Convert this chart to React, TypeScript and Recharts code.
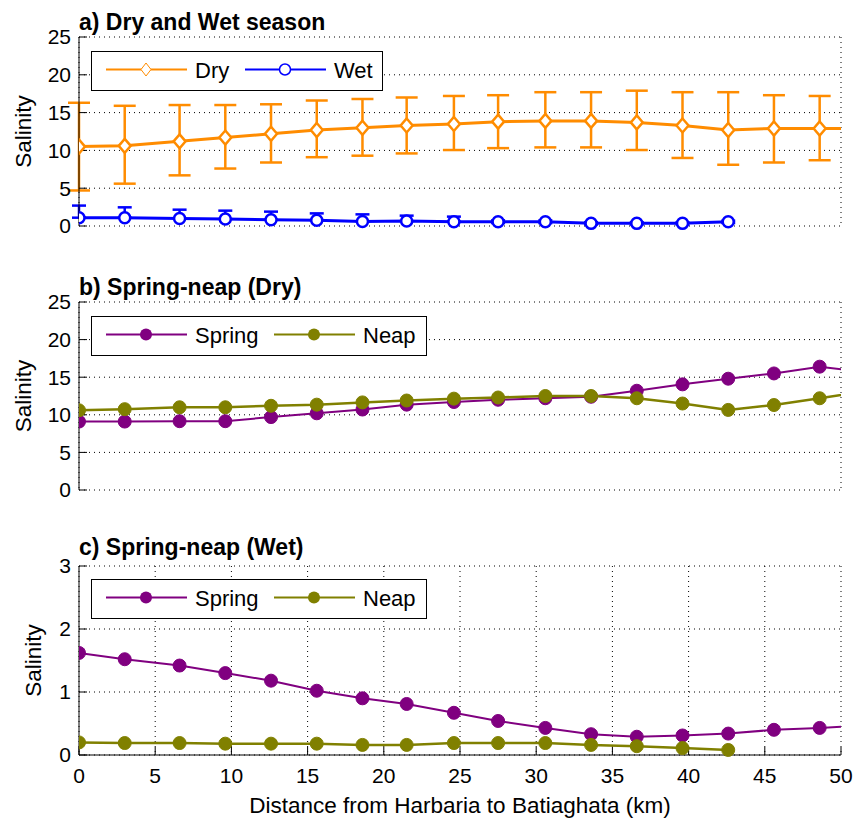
import { CartesianGrid, ErrorBar, Label, Legend, Line, LineChart, XAxis, YAxis } from 'recharts'

const FONT = '"Liberation Sans", Arial, Helvetica, sans-serif'
const ORANGE = '#ff8c00'
const BLUE = '#0000ff'
const PURPLE = '#800080'
const OLIVE = '#808000'

// station distance (km); the last one sits just past the 50 km axis limit
const DIST = [0, 3, 6.6, 9.6, 12.6, 15.6, 18.6, 21.5, 24.6, 27.5, 30.6, 33.6, 36.6, 39.6, 42.6, 45.6, 48.6, 51.6]
const X_TICKS = [0, 5, 10, 15, 20, 25, 30, 35, 40, 45, 50]

// a) seasonal mean salinity with spread
const DRY = [10.5, 10.6, 11.2, 11.7, 12.2, 12.7, 13.0, 13.3, 13.5, 13.8, 13.9, 13.9, 13.7, 13.3, 12.7, 12.9, 12.9, 12.9]
const DRY_LOW = [4.7, 5.6, 6.7, 7.6, 8.4, 9.1, 9.3, 9.6, 10.05, 10.3, 10.4, 10.4, 10.05, 9.0, 8.1, 8.4, 8.7]
const DRY_HIGH = [16.3, 15.9, 16.0, 16.0, 16.1, 16.6, 16.8, 17.0, 17.2, 17.3, 17.7, 17.7, 17.9, 17.7, 17.7, 17.3, 17.2]
const WET = [1.1, 1.1, 1.0, 0.93, 0.84, 0.75, 0.6, 0.66, 0.57, 0.57, 0.57, 0.35, 0.35, 0.35, 0.55]
const WET_ERR = [1.6, 1.37, 1.16, 1.1, 1.06, 0.92, 0.94, 0.71, 0.67, 0.18, 0.18, 0.15, 0.15, 0.15, 0.15]

// b) spring / neap, dry season
const SPRING_DRY = [9.1, 9.1, 9.15, 9.15, 9.7, 10.2, 10.7, 11.35, 11.7, 12.0, 12.2, 12.4, 13.2, 14.05, 14.8, 15.5, 16.4, 15.65]
const NEAP_DRY = [10.6, 10.75, 11.0, 11.0, 11.2, 11.35, 11.65, 11.9, 12.15, 12.3, 12.5, 12.5, 12.2, 11.5, 10.65, 11.3, 12.2, 13.1]

// c) spring / neap, wet season
const SPRING_WET = [1.62, 1.52, 1.42, 1.3, 1.18, 1.02, 0.9, 0.81, 0.67, 0.54, 0.43, 0.33, 0.29, 0.31, 0.34, 0.4, 0.43, 0.47]
const NEAP_WET = [0.2, 0.19, 0.19, 0.18, 0.18, 0.18, 0.16, 0.16, 0.19, 0.19, 0.19, 0.16, 0.14, 0.11, 0.08]

const pts = (vals: number[]) => vals.map((y, i) => ({ x: DIST[i], y }))
const dryBars = DRY_LOW.map((lo, i) => ({ x: DIST[i], y: DRY[i], err: [DRY[i] - lo, DRY_HIGH[i] - DRY[i]] }))
// the part of a wet bar below zero falls outside the axes, so only the upper half is drawn there
const wetData = WET.map((y, i) => ({ x: DIST[i], y, err: [WET_ERR[i] > y ? 0 : WET_ERR[i], WET_ERR[i]] }))

const tickStyle = { fontSize: 21, fill: '#000', fontFamily: FONT }

const diamondDot = (p: any) => {
  if (p.payload.x > 50) return <g key={p.index} />
  const { cx, cy } = p
  return (
    <polygon
      key={p.index}
      points={`${cx},${cy - 7} ${cx + 6},${cy} ${cx},${cy + 7} ${cx - 6},${cy}`}
      fill="#fff"
      stroke={ORANGE}
      strokeWidth={2.5}
    />
  )
}

const salinityLabel = (x: number) => (props: any) => {
  const vb = props.viewBox
  const cy = vb.y + vb.height / 2
  return (
    <text
      x={x}
      y={cy}
      transform={`rotate(-90 ${x} ${cy})`}
      textAnchor="middle"
      dominantBaseline="central"
      fontSize={22.5}
      fontFamily={FONT}
      fill="#000"
    >
      Salinity
    </text>
  )
}

type Item = { label: string; color: string; kind: 'diamond' | 'open' | 'filled'; x0: number }

function LegendBox({ items, width }: { items: Item[]; width: number }) {
  return (
    <div style={{ width, height: 40, border: '1px solid #000', background: '#fff', boxSizing: 'border-box' }}>
      <svg width={width - 2} height={38} style={{ display: 'block' }}>
        {items.map((it) => {
          const mx = it.x0 + 40
          return (
            <g key={it.label}>
              <line x1={it.x0} x2={it.x0 + 81} y1={17.5} y2={17.5} stroke={it.color} strokeWidth={2} />
              {it.kind === 'diamond' && (
                <polygon
                  points={`${mx},${11} ${mx + 5},${17.5} ${mx},${24} ${mx - 5},${17.5}`}
                  fill="#fff"
                  stroke={it.color}
                  strokeWidth={1}
                />
              )}
              {it.kind === 'open' && <circle cx={mx} cy={17.5} r={5.5} fill="#fff" stroke={it.color} strokeWidth={1.5} />}
              {it.kind === 'filled' && <circle cx={mx} cy={17.5} r={6} fill={it.color} />}
              <text x={it.x0 + 89} y={26} fontSize={22} fontFamily={FONT} fill="#000">
                {it.label}
              </text>
            </g>
          )
        })}
      </svg>
    </div>
  )
}

const frame = (yMax: number, yTicks: number[], showX: boolean, labelX: number) => [
  <CartesianGrid key="g" xAxisId="b" yAxisId="l" stroke="#000" strokeDasharray="1 4" />,
  <XAxis
    key="xb"
    xAxisId="b"
    dataKey="x"
    type="number"
    domain={[0, 50]}
    ticks={X_TICKS}
    interval={0}
    allowDataOverflow
    height={showX ? 63 : 0}
    tick={showX ? tickStyle : false}
    tickSize={-8}
    tickMargin={21}
    axisLine={{ stroke: '#000' }}
    tickLine={{ stroke: '#000' }}
  >
    {showX && (
      <Label
        value="Distance from Harbaria to Batiaghata (km)"
        position="insideBottom"
        offset={5}
        style={{ fontSize: 22.5, fill: '#000', fontFamily: FONT }}
      />
    )}
  </XAxis>,
  <XAxis
    key="xt"
    xAxisId="t"
    orientation="top"
    type="number"
    domain={[0, 50]}
    ticks={X_TICKS}
    interval={0}
    height={0}
    tick={false}
    tickSize={-8}
    axisLine={{ stroke: '#000' }}
    tickLine={{ stroke: '#000' }}
  />,
  <YAxis
    key="yl"
    yAxisId="l"
    type="number"
    domain={[0, yMax]}
    ticks={yTicks}
    interval={0}
    width={79}
    tick={tickStyle}
    tickSize={-8}
    tickMargin={16}
    axisLine={{ stroke: '#000' }}
    tickLine={{ stroke: '#000' }}
  >
    <Label content={salinityLabel(labelX)} />
  </YAxis>,
  <YAxis
    key="yr"
    yAxisId="r"
    orientation="right"
    type="number"
    domain={[0, yMax]}
    ticks={yTicks}
    interval={0}
    width={0}
    tick={false}
    tickSize={-8}
    axisLine={{ stroke: '#000' }}
    tickLine={{ stroke: '#000' }}
  />,
]

const titleStyle = (top: number) => ({
  position: 'absolute' as const,
  left: 79,
  top,
  fontSize: 23,
  lineHeight: '22px',
  fontWeight: 700,
  fontFamily: FONT,
  color: '#000',
  whiteSpace: 'nowrap' as const,
})

const S_TICKS = [0, 5, 10, 15, 20, 25]

export default function App() {
  return (
    <div style={{ position: 'absolute', left: 0, top: 0, width: 856, height: 818, background: '#fff', fontFamily: FONT }}>
      <div style={{ position: 'absolute', left: 0, top: 0 }}>
        <LineChart width={856} height={250} margin={{ top: 37, right: 15, bottom: 24, left: 0 }}>
          {frame(25, S_TICKS, false, 23)}
          <Line
            data={dryBars}
            xAxisId="b"
            yAxisId="l"
            dataKey="y"
            stroke="none"
            dot={false}
            isAnimationActive={false}
          >
            <ErrorBar dataKey="err" direction="y" width={11} stroke={ORANGE} strokeWidth={2.5} />
          </Line>
          <Line
            data={pts(DRY)}
            xAxisId="b"
            yAxisId="l"
            dataKey="y"
            stroke={ORANGE}
            strokeWidth={3}
            dot={diamondDot}
            isAnimationActive={false}
          />
          <Line
            data={wetData}
            xAxisId="b"
            yAxisId="l"
            dataKey="y"
            stroke={BLUE}
            strokeWidth={3}
            dot={{ r: 5.5, fill: '#fff', stroke: BLUE, strokeWidth: 2.5 }}
            isAnimationActive={false}
          >
            <ErrorBar dataKey="err" direction="y" width={7} stroke={BLUE} strokeWidth={2.5} />
          </Line>
          <Legend
            layout="horizontal"
            verticalAlign="middle"
            align="center"
            wrapperStyle={{ left: 91, top: 51, width: 292 }}
            content={() => (
              <LegendBox
                width={292}
                items={[
                  { label: 'Dry', color: ORANGE, kind: 'diamond', x0: 14 },
                  { label: 'Wet', color: BLUE, kind: 'open', x0: 153 },
                ]}
              />
            )}
          />
        </LineChart>
      </div>
      <div style={titleStyle(11)}>a) Dry and Wet season</div>

      <div style={{ position: 'absolute', left: 0, top: 250 }}>
        <LineChart width={856} height={250} margin={{ top: 52, right: 15, bottom: 10, left: 0 }}>
          {frame(25, S_TICKS, false, 23)}
          <Line
            data={pts(SPRING_DRY)}
            xAxisId="b"
            yAxisId="l"
            dataKey="y"
            stroke={PURPLE}
            strokeWidth={2}
            dot={{ r: 6.5, fill: PURPLE, stroke: PURPLE, strokeWidth: 1 }}
            isAnimationActive={false}
          />
          <Line
            data={pts(NEAP_DRY)}
            xAxisId="b"
            yAxisId="l"
            dataKey="y"
            stroke={OLIVE}
            strokeWidth={2.5}
            dot={{ r: 6.5, fill: OLIVE, stroke: OLIVE, strokeWidth: 1 }}
            isAnimationActive={false}
          />
          <Legend
            layout="horizontal"
            verticalAlign="middle"
            align="center"
            wrapperStyle={{ left: 91, top: 66, width: 336 }}
            content={() => (
              <LegendBox
                width={336}
                items={[
                  { label: 'Spring', color: PURPLE, kind: 'filled', x0: 14 },
                  { label: 'Neap', color: OLIVE, kind: 'filled', x0: 182 },
                ]}
              />
            )}
          />
        </LineChart>
      </div>
      <div style={titleStyle(276)}>b) Spring-neap (Dry)</div>

      <div style={{ position: 'absolute', left: 0, top: 500 }}>
        <LineChart width={856} height={318} margin={{ top: 66, right: 15, bottom: 0, left: 0 }}>
          {frame(3, [0, 1, 2, 3], true, 33)}
          <Line
            data={pts(SPRING_WET)}
            xAxisId="b"
            yAxisId="l"
            dataKey="y"
            stroke={PURPLE}
            strokeWidth={2}
            dot={{ r: 6.5, fill: PURPLE, stroke: PURPLE, strokeWidth: 1 }}
            isAnimationActive={false}
          />
          <Line
            data={pts(NEAP_WET)}
            xAxisId="b"
            yAxisId="l"
            dataKey="y"
            stroke={OLIVE}
            strokeWidth={2.5}
            dot={{ r: 6.5, fill: OLIVE, stroke: OLIVE, strokeWidth: 1 }}
            isAnimationActive={false}
          />
          <Legend
            layout="horizontal"
            verticalAlign="middle"
            align="center"
            wrapperStyle={{ left: 91, top: 79, width: 336 }}
            content={() => (
              <LegendBox
                width={336}
                items={[
                  { label: 'Spring', color: PURPLE, kind: 'filled', x0: 14 },
                  { label: 'Neap', color: OLIVE, kind: 'filled', x0: 182 },
                ]}
              />
            )}
          />
        </LineChart>
      </div>
      <div style={titleStyle(536)}>c) Spring-neap (Wet)</div>
    </div>
  )
}
